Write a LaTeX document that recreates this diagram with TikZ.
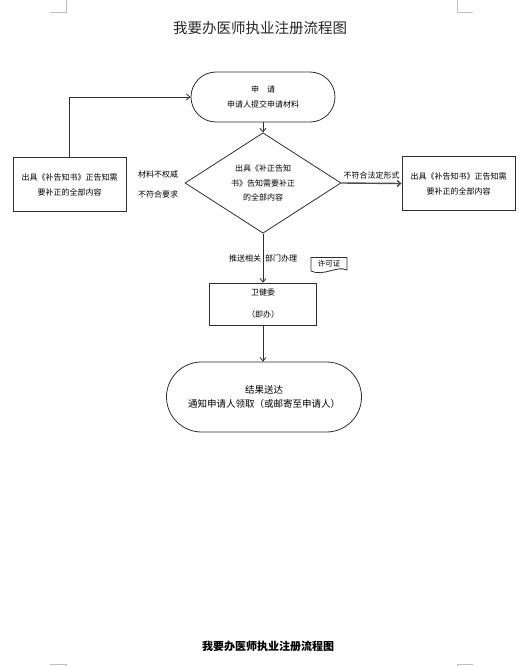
\documentclass[tikz,border=0pt]{standalone}
\usepackage{fontspec}
\newfontfamily\cjk{Noto Sans CJK SC}
\usetikzlibrary{shapes.geometric,arrows.meta}
\definecolor{linegray}{HTML}{2E2E2E}

\begin{document}
\begin{tikzpicture}[x=1pt, y=-1pt,
  every node/.style={font=\cjk\fontsize{8}{15}\selectfont, align=center, inner sep=0pt},
  boxnode/.style={draw=linegray, line width=0.8pt, minimum width=113pt, minimum height=54pt},
  flow/.style={draw=linegray, line width=0.8pt, -{Straight Barb[length=3.5pt,width=6pt]}}]
  \useasboundingbox (0,0) rectangle (525,666);
  \draw[black!25, line width=0.6pt] (50,12) -- (66,12) -- (66,0);
  \draw[black!25, line width=0.6pt] (457,0) -- (457,12) -- (473,12);
  \draw[black!25, line width=0.6pt] (50,664) -- (66,664) -- (66,666);
  \draw[black!25, line width=0.6pt] (457,666) -- (457,664) -- (473,664);
  \node[font=\cjk\fontsize{14.5}{16}\selectfont, text=black!85] (title) at (260,28) {我要办医师执业注册流程图};
  \node[draw=linegray, line width=0.8pt, rounded corners=25pt, minimum width=144pt, minimum height=50pt] (apply) at (263,97) {申\hspace{8pt}请\\申请人提交申请材料};
  \node[draw=linegray, line width=0.8pt, diamond, minimum width=156pt, minimum height=95pt, font=\cjk\fontsize{8}{14.5}\selectfont] (check) at (263,183) {出具《补正告知\\书》告知需要补正\\的全部内容};
  \node[boxnode] (fixleft) at (69.5,184.5) {出具《补告知书》正告知需\\要补正的全部内容};
  \node[boxnode] (fixright) at (458.5,183.5) {出具《补告知书》正告知需\\要补正的全部内容};
  \node[font=\cjk\fontsize{8}{20}\selectfont] (notok) at (158,184) {材料不权威\\不符合要求};
  \node[draw=linegray, line width=0.8pt, minimum width=107pt, minimum height=42pt] (wjw) at (263,304) {卫健委\\[7pt]（即办）};
  \node[draw=linegray, line width=0.8pt, rounded corners=35pt, minimum width=195pt, minimum height=70pt, font=\cjk\fontsize{9.5}{14}\selectfont] (result) at (264,397) {结果送达\\通知申请人领取（或邮寄至申请人）};
  \draw[linegray, line width=0.8pt] (311,257.5) -- (347,257.5) -- (347,270) .. controls (338,265) and (323,277) .. (311,271) -- cycle;
  \node[font=\cjk\fontsize{7.5}{9}\selectfont] (permit) at (329,264) {许可证};
  \draw[flow] (apply.south) -- (check.north);
  \draw[flow] (fixleft.north) |- (apply.west);
  \draw[flow, line width=1.4pt, draw=black!70] (check.east) -- node[above=3pt] {不符合法定形式} (fixright.west);
  \draw[flow] (check.south) -- node[pos=0.5] {推送相关\hspace{4pt}部门办理} (wjw.north);
  \draw[flow] (wjw.south) -- (wjw.south |- result.north);
  \node[font=\cjk\bfseries\fontsize{11}{13}\selectfont] (foot) at (268,646) {我要办医师执业注册流程图};
\end{tikzpicture}
\end{document}
